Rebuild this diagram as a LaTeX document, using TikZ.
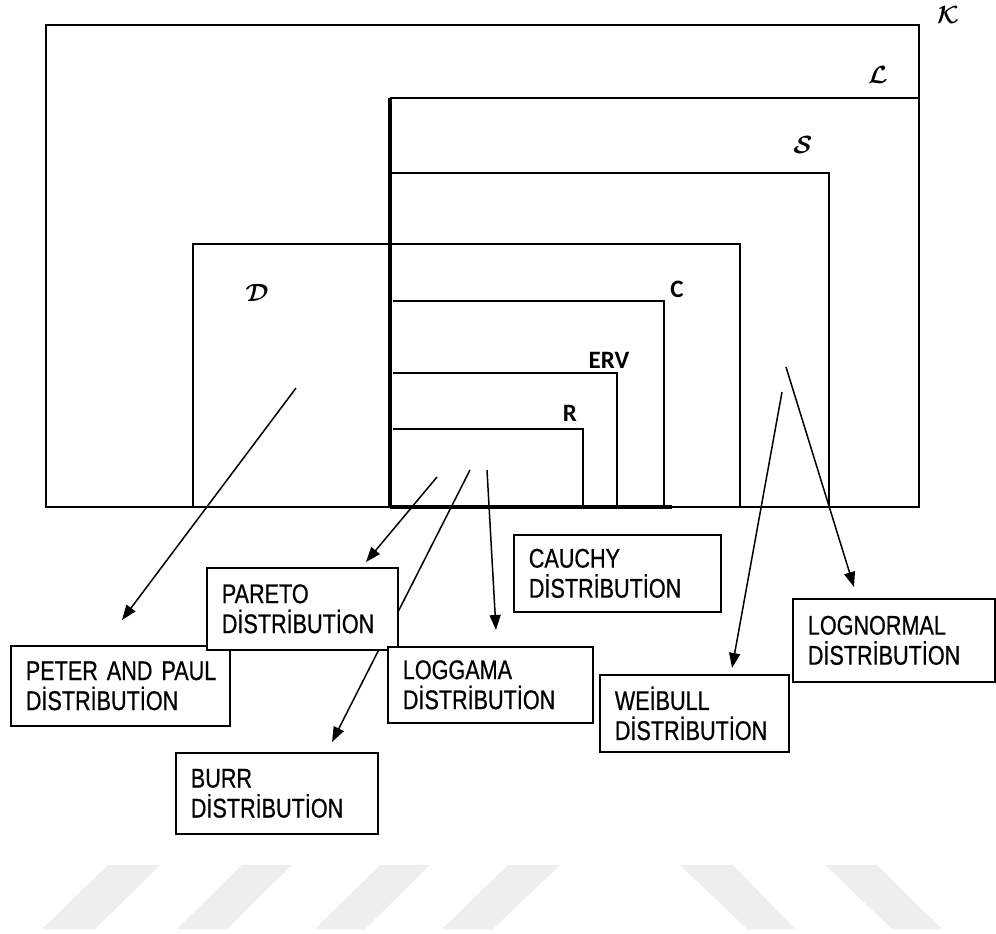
\documentclass[tikz,border=0pt]{standalone}
\usepackage{fontspec}
\usepackage{bm}
\setmainfont{Liberation Sans}
\newfontfamily\boxfont[FakeStretch=0.8,FakeBold=0.6,WordSpace=0.6]{Liberation Sans}
\newfontfamily\labfont{Carlito}
\usetikzlibrary{arrows.meta}
\definecolor{wmgray}{RGB}{238,238,238}
\begin{document}
\begin{tikzpicture}[x=1pt,y=-1pt,
  region/.style={draw=black,line width=1.8pt},
  sregion/.style={draw=black,line width=2.6pt},
  thickline/.style={draw=black,line width=4pt},
  innerbox/.style={draw=black,line width=1.5pt},
  distbox/.style={draw=black,line width=1.7pt,fill=white,anchor=north west,align=left,
    inner xsep=15pt,inner ysep=0pt,font=\boxfont\fontsize{27}{30}\selectfont},
  arr/.style={line width=1.5pt,-{Triangle[length=15pt,width=11pt]}},
  setlab/.style={font=\fontsize{24}{24}\selectfont},
  boldlab/.style={font=\labfont\bfseries\fontsize{25}{25}\selectfont},
  wm/.style={fill=wmgray,draw=none}]
\useasboundingbox (0,0) rectangle (996,934);
% watermark stripes
\fill[wm] (42,929) -- (95,929) -- (160,865) -- (108,865) -- cycle;
\fill[wm] (177,929) -- (227,929) -- (292,865) -- (242,865) -- cycle;
\fill[wm] (315,929) -- (365,929) -- (430,865) -- (380,865) -- cycle;
\fill[wm] (442,929) -- (493,929) -- (560,865) -- (508,865) -- cycle;
\fill[wm] (680,865) -- (733,865) -- (795,929) -- (747,929) -- cycle;
\fill[wm] (825,865) -- (877,865) -- (942,929) -- (892,929) -- cycle;
% set regions
\draw[region] (46,25) rectangle (919,507);
\draw[region] (390,98) -- (919,98);
\draw[sregion] (390,173) -- (829,173) -- (829,507);
\draw[region] (193,507) -- (193,244) -- (740,244) -- (740,507);
\draw[innerbox] (393,301) -- (664,301) -- (664,507);
\draw[innerbox] (393,373) -- (617,373) -- (617,507);
\draw[innerbox] (393,429) -- (583,429) -- (583,507);
\draw[thickline] (390,98) -- (390,507);
\draw[line width=3.5pt] (390,507) -- (672,507);
% labels of sets
\node[font=\fontsize{28}{28}\selectfont] (lk) at (948,15) {$\bm{\mathcal{K}}$};
\node[setlab] (ll) at (878,75) {$\bm{\mathcal{L}}$};
\node[setlab] (ls) at (803,145) {$\bm{\mathcal{S}}$};
\node[setlab] (ld) at (257,293) {$\bm{\mathcal{D}}$};
\node[boldlab] (lc) at (677,289) {C};
\node[boldlab] (lerv) at (609,360) {ERV};
\node[boldlab] (lr) at (570,413) {R};
% arrow start and end points
\coordinate (sPeter) at (296,388);   \coordinate (tPeter) at (122,620);
\coordinate (sPareto) at (437,477);  \coordinate (tPareto) at (366,562);
\coordinate (sBurr) at (470,470);    \coordinate (tBurr) at (332,742);
\coordinate (sLog) at (487,470);     \coordinate (tLog) at (496,630);
\coordinate (sWei) at (782,392);     \coordinate (tWei) at (732,668);
\coordinate (sLogn) at (786,367);    \coordinate (tLogn) at (854,587);
\draw[arr] (sPeter) -- (tPeter);
\draw[arr] (sPareto) -- (tPareto);
\draw[arr] (sBurr) -- (tBurr);
\draw[arr] (sLog) -- (tLog);
\draw[arr] (sWei) -- (tWei);
\draw[arr] (sLogn) -- (tLogn);
% distribution boxes
\node[distbox,text width=189pt,minimum height=80pt] (peter) at (10,645) {\mbox{PETER AND PAUL}\\DİSTRİBUTİON};
\node[distbox,text width=161pt,minimum height=82pt] (pareto) at (206,567) {PARETO\\DİSTRİBUTİON};
\node[distbox,text width=172pt,minimum height=81pt] (burr) at (175,752) {BURR\\DİSTRİBUTİON};
\node[distbox,text width=175pt,minimum height=76pt] (loggama) at (387,646) {LOGGAMA\\DİSTRİBUTİON};
\node[distbox,text width=177pt,minimum height=77pt] (cauchy) at (513,534) {CAUCHY\\DİSTRİBUTİON};
\node[distbox,text width=159pt,minimum height=77pt] (weibull) at (599,674) {WEİBULL\\DİSTRİBUTİON};
\node[distbox,text width=172pt,minimum height=83pt] (lognormal) at (792,598) {LOGNORMAL\\DİSTRİBUTİON};
\end{tikzpicture}
\end{document}
